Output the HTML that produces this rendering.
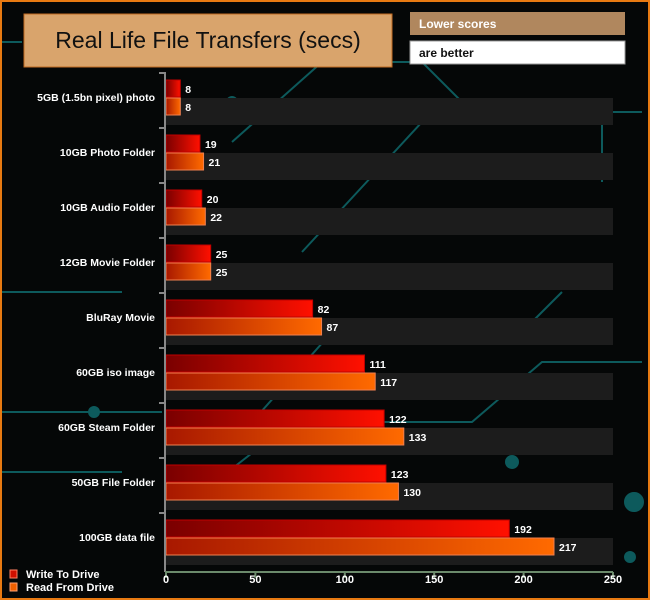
<!DOCTYPE html>
<html><head><meta charset="utf-8"><style>
body{margin:0;background:#000}
#wrap{position:relative;width:650px;height:600px;background:#050707;box-sizing:border-box;border:2px solid #e87a12;overflow:hidden;font-family:"Liberation Sans",sans-serif}
svg{position:absolute;left:0;top:0}
</style></head><body>
<div id="wrap">
<svg id="chart" width="650" height="600" viewBox="0 0 650 600">
<defs>
<linearGradient id="gw" x1="0" x2="1"><stop offset="0" stop-color="#7a0000"/><stop offset="1" stop-color="#ff1000"/></linearGradient>
<linearGradient id="gr" x1="0" x2="1"><stop offset="0" stop-color="#a81800"/><stop offset="1" stop-color="#ff6a00"/></linearGradient>
</defs>
<g stroke="#0d5a5c" stroke-width="2" fill="none">
<path d="M0 40 H20 M230 140 L320 60 H420 L470 110 H640"/>
<path d="M300 250 L420 120 H600 V180"/>
<path d="M250 420 L330 330 H520 L560 290"/>
<path d="M200 490 L290 420 H470 L540 360 H640"/>
<path d="M0 290 H120 M0 410 H160 M0 470 H120"/>
<circle cx="230" cy="100" r="5" fill="#0d5a5c"/><circle cx="92" cy="410" r="5" fill="#0d5a5c"/>
<circle cx="632" cy="500" r="9" fill="#0d5a5c"/><circle cx="628" cy="555" r="5" fill="#0d5a5c"/>
<circle cx="510" cy="460" r="6" fill="#0d5a5c"/><circle cx="590" cy="500" r="6" fill="#0d5a5c"/>
</g>
<rect x="22" y="12" width="368" height="53" fill="#d9a46c" stroke="#c06a20"/>
<text x="206" y="46" text-anchor="middle" font-size="23" fill="#111">Real Life File Transfers (secs)</text>
<rect x="408" y="10" width="215" height="23" fill="#b0875e"/>
<text x="417" y="26" font-size="12" font-weight="bold" fill="#fff">Lower scores</text>
<rect x="408" y="39" width="215" height="23" fill="#fff" stroke="#999"/>
<text x="417" y="55" font-size="12" font-weight="bold" fill="#111">are better</text>
<g id="plot"></g>
<g>
<rect x="8" y="568" width="7" height="8" fill="#d01000" stroke="#ff8060"/>
<text x="24" y="576" font-size="11" font-weight="bold" fill="#fff">Write To  Drive</text>
<rect x="8" y="581" width="7" height="8" fill="#f06000" stroke="#ffa070"/>
<text x="24" y="589" font-size="11" font-weight="bold" fill="#fff">Read From  Drive</text>
</g>
</svg>
</div>
<script>
const categories=["5GB (1.5bn pixel) photo","10GB Photo Folder","10GB Audio Folder","12GB Movie Folder","BluRay Movie","60GB iso image","60GB Steam Folder","50GB File Folder","100GB data file"];
const writeValues=[8,19,20,25,82,111,122,123,192];
const readValues=[8,21,22,25,87,117,133,130,217];
const xTicks=[0,50,100,150,200,250];
const NS="http://www.w3.org/2000/svg";
const g=document.getElementById('plot');
const X0=164,X1=611,XMAX=250,Y0=78,PITCH=55;
const x=v=>X0+v/XMAX*(X1-X0);
const rowY=i=>Y0+i*PITCH;
function mk(t,a){const e=document.createElementNS(NS,t);for(const k in a)e.setAttribute(k,a[k]);g.appendChild(e);return e;}
categories.forEach((c,i)=>{
  const y=rowY(i);
  const band=mk('rect',{x:X0,y:y+18,width:X1-X0,height:27,fill:'#1c1c1c'});
  
  
});
categories.forEach((c,i)=>{
  const y=rowY(i);
  const w=mk('rect',{x:X0,y:y,width:x(writeValues[i])-X0,height:17,fill:'url(#gw)',stroke:'#c00000','stroke-width':1});
  
  
  const r=mk('rect',{x:X0,y:y+18,width:x(readValues[i])-X0,height:17,fill:'url(#gr)',stroke:'#f08050','stroke-width':1});
  
  
  const t1=mk('text',{x:x(writeValues[i])+5,y:y+13,'font-size':10.5,'font-weight':'bold',fill:'#fff'});t1.textContent=writeValues[i];
  
  
  const t2=mk('text',{x:x(readValues[i])+5,y:y+31,'font-size':10.5,'font-weight':'bold',fill:'#fff'});t2.textContent=readValues[i];
  
  
  const cl=mk('text',{x:153,y:y+21,'font-size':10.5,'font-weight':'bold',fill:'#fff','text-anchor':'end'});cl.textContent=c;
  
  
  const tk=mk('line',{x1:157,x2:163,y1:y-7,y2:y-7,stroke:'#888','stroke-width':2});
  
  
});
const ya=mk('line',{x1:163,x2:163,y1:rowY(0)-8,y2:570,stroke:'#888','stroke-width':2});


const xa=mk('line',{x1:163,x2:X1,y1:570,y2:570,stroke:'#6b8a6b','stroke-width':2});


xTicks.forEach(v=>{
  const l=mk('line',{x1:x(v),x2:x(v),y1:570,y2:576,stroke:'#6b8a6b','stroke-width':2});
  
  
  const t=mk('text',{x:x(v),y:581,'font-size':11,'font-weight':'bold',fill:'#fff','text-anchor':'middle'});t.textContent=v;
  
  
});
</script>
</body></html>
